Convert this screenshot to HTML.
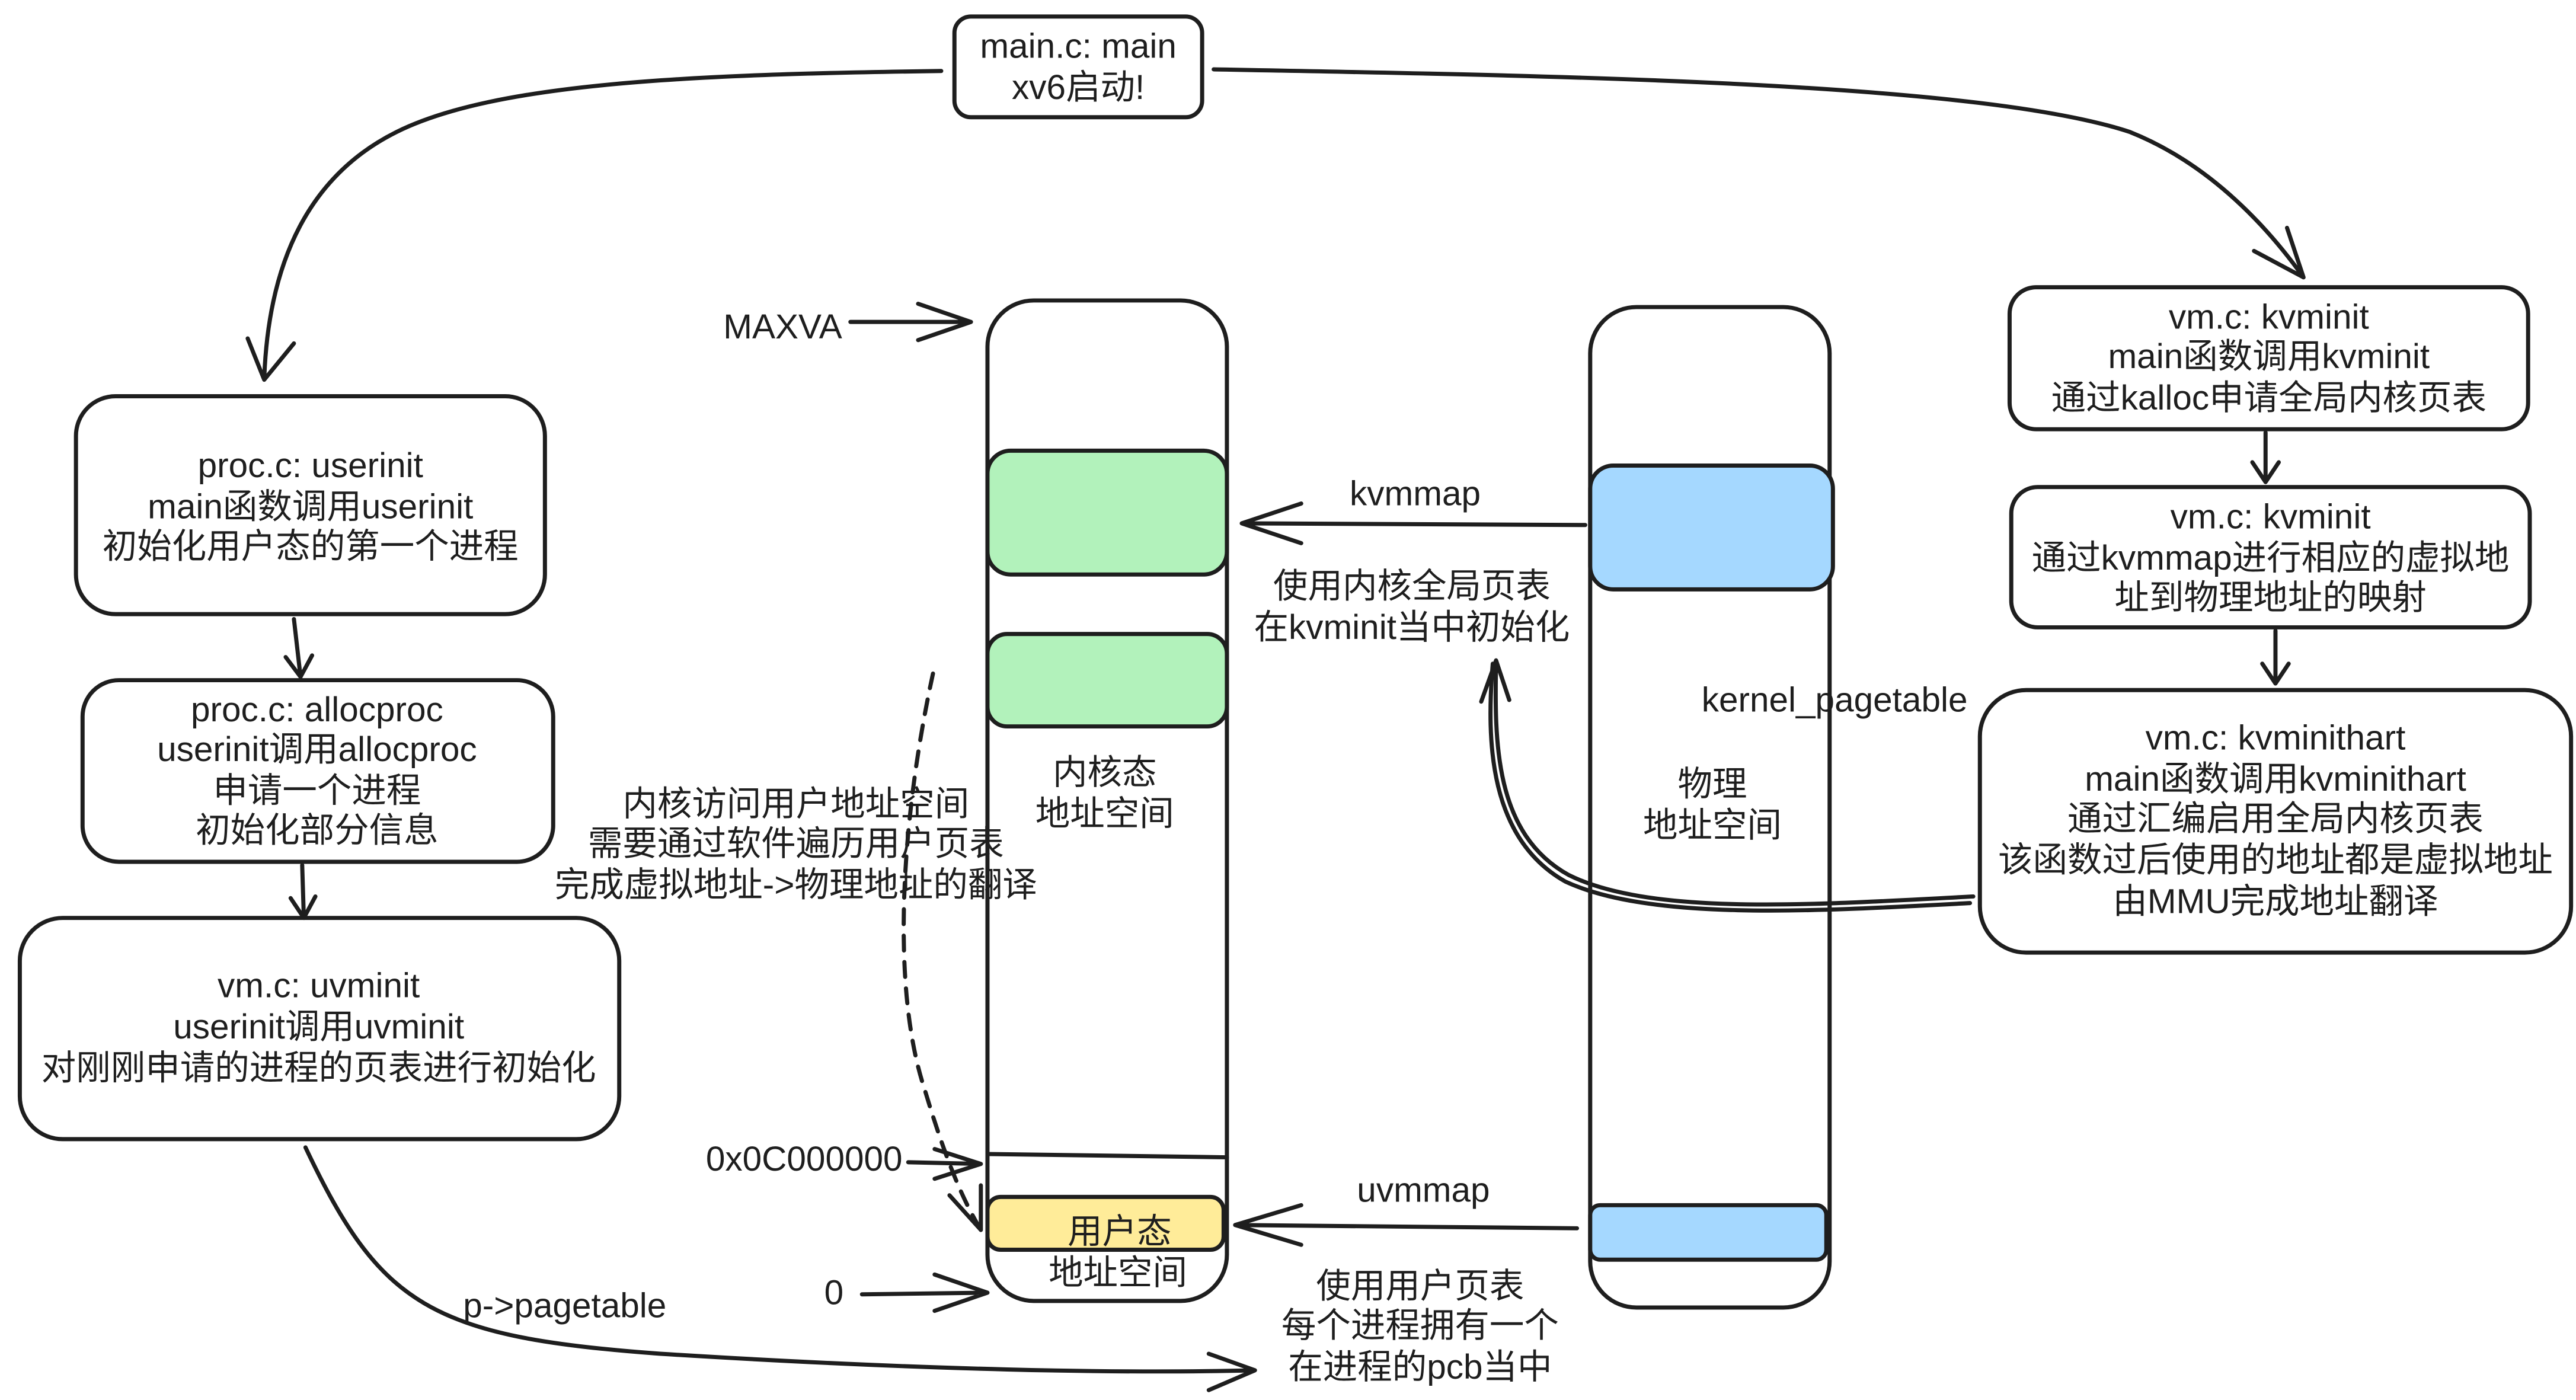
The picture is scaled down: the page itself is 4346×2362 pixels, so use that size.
<!DOCTYPE html>
<html><head><meta charset="utf-8"><style>
html,body{margin:0;padding:0;background:#fff;}
svg{display:block;}
text{font-family:"Liberation Sans","Noto Sans CJK SC",sans-serif;font-size:21px;fill:#1e1e1e;text-anchor:middle;}
.s{fill:none;stroke:#1e1e1e;stroke-width:2.5;stroke-linecap:round;stroke-linejoin:round;}
.b{fill:#fff;stroke:#1e1e1e;stroke-width:2.5;}
</style></head><body>
<svg width="4346" height="2362" viewBox="0 0 1560 848" preserveAspectRatio="none" xmlns="http://www.w3.org/2000/svg">
<rect class="b" x="578" y="10" width="150" height="61" rx="10"/>
<text x="653" y="35">main.c: main</text><text x="653" y="60">xv6启动!</text>

<rect class="b" x="46" y="240" width="284" height="132" rx="24"/>
<text x="188" y="289">proc.c: userinit</text><text x="188" y="314">main函数调用userinit</text><text x="188" y="338">初始化用户态的第一个进程</text>

<rect class="b" x="50" y="412" width="285" height="110" rx="22"/>
<text x="192" y="437">proc.c: allocproc</text><text x="192" y="461">userinit调用allocproc</text><text x="192" y="486">申请一个进程</text><text x="192" y="510">初始化部分信息</text>

<rect class="b" x="12" y="556" width="363" height="134" rx="26"/>
<text x="193" y="604">vm.c: uvminit</text><text x="193" y="629">userinit调用uvminit</text><text x="193" y="654">对刚刚申请的进程的页表进行初始化</text>

<rect class="b" x="1217" y="174" width="314" height="86" rx="16"/>
<text x="1374" y="199">vm.c: kvminit</text><text x="1374" y="223">main函数调用kvminit</text><text x="1374" y="248">通过kalloc申请全局内核页表</text>

<rect class="b" x="1218" y="295" width="314" height="85" rx="16"/>
<text x="1375" y="320">vm.c: kvminit</text><text x="1375" y="345">通过kvmmap进行相应的虚拟地</text><text x="1375" y="369">址到物理地址的映射</text>

<rect class="b" x="1199" y="418" width="358" height="159" rx="28"/>
<text x="1378" y="454">vm.c: kvminithart</text><text x="1378" y="479">main函数调用kvminithart</text><text x="1378" y="503">通过汇编启用全局内核页表</text><text x="1378" y="528">该函数过后使用的地址都是虚拟地址</text><text x="1378" y="553">由MMU完成地址翻译</text>

<rect class="b" x="598" y="182" width="145" height="606" rx="28"/>
<rect x="598" y="273" width="145" height="75" rx="14" fill="#b2f2bb" stroke="#1e1e1e" stroke-width="2.5"/>
<rect x="598" y="384" width="145" height="56" rx="12" fill="#b2f2bb" stroke="#1e1e1e" stroke-width="2.5"/>
<line class="s" x1="598" y1="699" x2="743" y2="701"/>
<rect x="598" y="725" width="143" height="32" rx="8" fill="#ffec99" stroke="#1e1e1e" stroke-width="2.5"/>
<text x="669" y="475">内核态</text><text x="669" y="500">地址空间</text>
<text x="678" y="753">用户态</text><text x="677" y="778">地址空间</text>

<rect class="b" x="963" y="186" width="145" height="606" rx="28"/>
<rect x="963" y="282" width="147" height="75" rx="14" fill="#a5d8ff" stroke="#1e1e1e" stroke-width="2.5"/>
<rect x="963" y="730" width="143" height="33" rx="6" fill="#a5d8ff" stroke="#1e1e1e" stroke-width="2.5"/>
<text x="1037" y="482">物理</text><text x="1037" y="507">地址空间</text>

<text x="474" y="205">MAXVA</text>
<text x="487" y="709">0x0C000000</text>
<text x="505" y="790">0</text>
<text x="857" y="306">kvmmap</text>
<text x="855" y="362">使用内核全局页表</text><text x="855" y="387">在kvminit当中初始化</text>
<text x="1111" y="431">kernel_pagetable</text>
<text x="862" y="728">uvmmap</text>
<text x="860" y="786">使用用户页表</text><text x="860" y="810">每个进程拥有一个</text><text x="860" y="835">在进程的pcb当中</text>
<text x="342" y="798">p-&gt;pagetable</text>
<text x="482" y="494">内核访问用户地址空间</text><text x="482" y="518">需要通过软件遍历用户页表</text><text x="482" y="543">完成虚拟地址-&gt;物理地址的翻译</text>

<path class="s" d="M515 195 L588 195 M556 184 L588 195 L556 206"/>
<path class="s" d="M550 704 L594 705 M566 696 L594 705 L566 714"/>
<path class="s" d="M522 784 L598 783 M566 772 L598 783 L566 794"/>
<path class="s" d="M960 318 L752 317 M788 305 L752 317 L788 329"/>
<path class="s" d="M955 744 L748 742 M788 730 L748 742 L788 754"/>
<path class="s" d="M570 43 C420 45 300 50 240 80 C180 110 162 170 160 230 M150 205 L160 230 L178 208"/>
<path class="s" d="M735 42 C950 46 1200 50 1290 80 C1340 100 1375 140 1395 168 M1365 152 L1395 168 L1385 138"/>
<path class="s" d="M1372 262 L1372 292 M1364 280 L1372 292 L1380 280"/>
<path class="s" d="M1378 382 L1378 414 M1370 402 L1378 414 L1386 402"/>
<path class="s" d="M178 375 L182 410 M173 398 L182 410 L189 397"/>
<path class="s" d="M183 524 L184 556 M176 544 L184 556 L191 543"/>
<path class="s" d="M1195 543 C1100 548 1000 555 950 530 C905 505 905 450 906 400 M1193 547 C1100 552 1000 558 948 534 C902 508 900 450 904 402 M897 425 L906 400 L914 424"/>
<path class="s" stroke-dasharray="9 7" d="M565 408 C545 500 540 600 560 660 C572 700 582 725 594 745"/>
<path class="s" d="M594 745 L575 724 M594 745 L594 718"/>
<path class="s" d="M185 695 C230 790 260 810 400 820 C560 830 680 832 760 830 M732 820 L760 830 L732 842"/>
</svg>
</body></html>
